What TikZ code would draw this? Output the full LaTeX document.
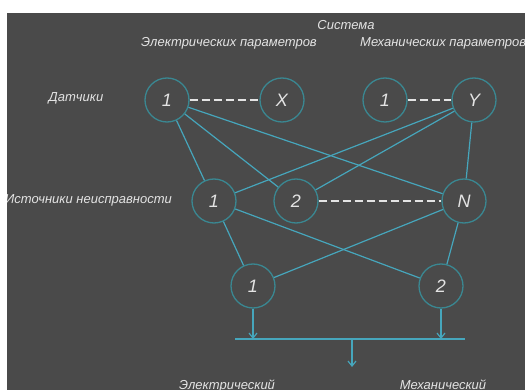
\documentclass[tikz,border=0pt]{standalone}
\usepackage{fontspec}
\setmainfont{Liberation Sans}
\usetikzlibrary{arrows.meta,positioning}
\definecolor{board}{HTML}{4A4A4A}
\definecolor{ring}{HTML}{3A8791}
\definecolor{wire}{HTML}{46A6BC}
\definecolor{chalk}{HTML}{E4E4E4}
\tikzset{
  unit/.style={circle, draw=ring, line width=1.3pt, minimum size=44pt, inner sep=0pt,
               text=chalk, font=\fontsize{18}{18}\selectfont\itshape},
  lbl/.style={text=chalk, font=\fontsize{13}{15}\selectfont\itshape, inner sep=0pt},
  link/.style={draw=wire, line width=1.2pt},
  dashlink/.style={draw=chalk, line width=1.5pt, dash pattern=on 8pt off 4pt},
  flow/.style={draw=wire, line width=1.2pt, -{Straight Barb[length=5pt,width=8pt]}}
}

\begin{document}
\begin{tikzpicture}[x=1pt, y=-1pt]
\useasboundingbox (0,0) rectangle (525,390);
\fill[white] (0,0) rectangle (525,390);
\fill[board] (7,13) rectangle (525,390);
\clip (7,13) rectangle (525,390);

% headings
\node[lbl] (sys) at (346,25) {Система};
\node[lbl] (elhead) at (229,43) {Электрических параметров};
\node[lbl, anchor=west] (mehead) at (360,43) {Механических параметров};
\node[lbl] (senslbl) at (76,98) {Датчики};
\node[lbl, anchor=west] (srclbl) at (5,200) {Источники неисправности};

% sensors
\node[unit] (e1) at (167,100) {1};
\node[unit] (x) at (282,100) {X};
\node[unit] (m1) at (385,100) {1};
\node[unit] (y) at (474,100) {Y};

% fault sources
\node[unit] (s1) at (214,201) {1};
\node[unit] (s2) at (296,201) {2};
\node[unit] (sn) at (464,201) {N};

% outputs
\node[unit] (b1) at (253,286) {1};
\node[unit] (b2) at (441,286) {2};

\node[lbl, anchor=north] (elout) at (227,380) {Электрический};
\node[lbl, anchor=north] (meout) at (443,380) {Механический};

\draw[dashlink] (e1) -- (x);
\draw[dashlink] (m1) -- (y);
\draw[dashlink] (s2) -- (sn);

\draw[link] (e1) -- (s1);
\draw[link] (e1) -- (s2);
\draw[link] (e1) -- (sn);
\draw[link] (y) -- (s1);
\draw[link] (y) -- (s2);
\draw[link] (y) -- (sn);
\draw[link] (s1) -- (b1);
\draw[link] (s1) -- (b2);
\draw[link] (sn) -- (b1);
\draw[link] (sn) -- (b2);

% bus
\coordinate (busl) at (235,339);
\coordinate (busr) at (465,339);
\coordinate (busm) at (352,339);
\coordinate (outp) at (352,367);
\draw[link] (busl) -- (busr);
\draw[flow] (b1) -- (b1 |- busl);
\draw[flow] (b2) -- (b2 |- busl);
\draw[flow] (busm) -- (outp);
\end{tikzpicture}
\end{document}
